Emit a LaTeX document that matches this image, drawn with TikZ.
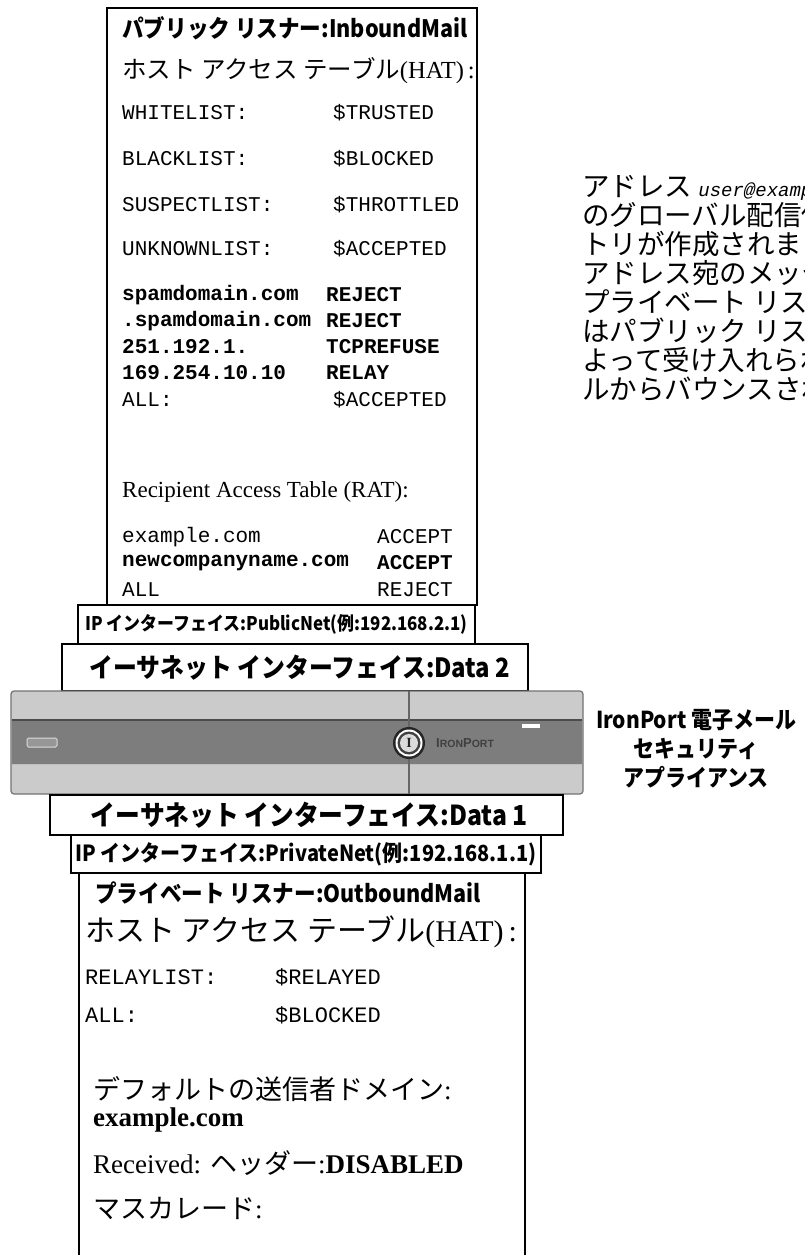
\documentclass[tikz,border=0pt]{standalone}
\usepackage{fontspec}
\setmainfont{Liberation Serif}
\setmonofont{Liberation Mono}
\newfontfamily\jp{Noto Sans CJK JP}
\newfontfamily\hdfont{Noto Sans CJK JP}[FakeStretch=0.9]
\newfontfamily\logofont{Liberation Sans}
\usepackage{tikz}
\definecolor{panel}{HTML}{CBCBCB}
\definecolor{band}{HTML}{7D7D7D}
\tikzstyle{listener} = [draw=black, line width=1.8pt, rectangle, anchor=north west, inner sep=0pt]
\tikzstyle{iface} = [listener, fill=white]
\tikzstyle{hdr} = [anchor=west, inner sep=0pt, font={\hdfont\bfseries\fontsize{24}{26}\selectfont}]
\tikzstyle{hatrow} = [anchor=west, inner sep=0pt, font={\ttfamily\fontsize{21}{23}\selectfont}]
\tikzstyle{hatbold} = [anchor=west, inner sep=0pt, font={\ttfamily\bfseries\fontsize{21}{23}\selectfont}]
\tikzstyle{privrow} = [anchor=west, inner sep=0pt, font={\ttfamily\fontsize{22}{24}\selectfont}]
\tikzstyle{txt} = [anchor=west, inner sep=0pt, font={\fontsize{24.5}{26}\selectfont}]
\tikzstyle{bigtxt} = [anchor=west, inner sep=0pt, font={\fontsize{27}{29}\selectfont}]

\begin{document}
\begin{tikzpicture}[x=1pt,y=-1pt]
  \useasboundingbox (0,0) rectangle (804,1255);
  \clip (0,0) rectangle (804,1255);

  % public listener
  \node[listener, minimum width=370pt, minimum height=597pt] (pub) at (106,7) {};
  \node[hdr] (pubhead) at (122,28) {パブリック リスナー:InboundMail};
  \node[txt] (pubhat) at (122,71) {{\jp ホスト アクセス テーブル}(HAT)\,:};
  \node[hatrow] (w1) at (122,113) {WHITELIST:};
  \node[hatrow] (w2) at (333,113) {\$TRUSTED};
  \node[hatrow] (b1) at (122,159) {BLACKLIST:};
  \node[hatrow] (b2) at (333,159) {\$BLOCKED};
  \node[hatrow] (s1) at (122,205) {SUSPECTLIST:};
  \node[hatrow] (s2) at (333,205) {\$THROTTLED};
  \node[hatrow] (u1) at (122,249) {UNKNOWNLIST:};
  \node[hatrow] (u2) at (333,249) {\$ACCEPTED};
  \node[hatbold] (d1) at (122,295) {spamdomain.com};
  \node[hatbold] (d2) at (326,295) {REJECT};
  \node[hatbold] (e1) at (122,321) {.spamdomain.com};
  \node[hatbold] (e2) at (326,321) {REJECT};
  \node[hatbold] (f1) at (122,347) {251.192.1.};
  \node[hatbold] (f2) at (326,347) {TCPREFUSE};
  \node[hatbold] (g1) at (122,373) {169.254.10.10};
  \node[hatbold] (g2) at (326,373) {RELAY};
  \node[hatrow] (a1) at (122,400) {ALL:};
  \node[hatrow] (a2) at (333,400) {\$ACCEPTED};
  \node[txt, font={\fontsize{23}{25}\selectfont}] (rat) at (122,492) {Recipient Access Table (RAT):};
  \node[hatrow] (r1) at (122,537) {example.com};
  \node[hatrow] (r2) at (377,537) {ACCEPT};
  \node[hatbold] (n1) at (122,563) {newcompanyname.com};
  \node[hatbold] (n2) at (377,563) {ACCEPT};
  \node[hatrow] (l1) at (122,590) {ALL};
  \node[hatrow] (l2) at (377,590) {REJECT};

  % interfaces above the appliance
  \node[iface, minimum width=397pt, minimum height=39pt] (pubnet) at (77,604) {};
  \node[font={\hdfont\bfseries\fontsize{18.8}{21}\selectfont}] at (pubnet.center) {IP インターフェイス:PublicNet(例:192.168.2.1)};
  \node[iface, minimum width=466pt, minimum height=47pt] (data2) at (61,643) {};
  \node[font={\hdfont\bfseries\fontsize{26.5}{28}\selectfont}] at ([xshift=5pt]data2.center) {イーサネット インターフェイス:Data 2};

  % the appliance
  \draw[fill=panel, draw=black!55, line width=1.2pt, rounded corners=3pt] (11,691) rectangle (583,794);
  \fill[band] (12,720) rectangle (582,764);
  \draw[black!70, line width=1.4pt] (12,720) -- (582,720);
  \draw[black!25, line width=1pt] (12,764) -- (582,764);
  \draw[black!60, line width=1.4pt] (409,691) -- (409,794);
  \draw[panel!70, fill=band!80, rounded corners=1.5pt, line width=1pt] (27,738) rectangle (57,747);
  \fill[white] (522,724) rectangle (540,728);
  \fill[black!85] (409,743) circle (16);
  \fill[white] (409,743) circle (13.5);
  \fill[black!75] (409,743) circle (11.5);
  \fill[panel!70] (409,743) circle (9);
  \node[font={\bfseries\fontsize{14}{14}\selectfont}, text=black!85] (logo) at (409,743) {I};
  \node[anchor=west, inner sep=0pt, text=black!75, font={\logofont\bfseries}] (brand) at (436,743)
    {\fontsize{13}{13}\selectfont I\fontsize{10.5}{11}\selectfont RON\fontsize{13}{13}\selectfont P\fontsize{10.5}{11}\selectfont ORT};
  \node[align=center, font={\hdfont\bfseries\fontsize{23.3}{29}\selectfont}] (applabel) at (696,749)
    {IronPort 電子メール\\セキュリティ\\アプライアンス};

  % interfaces below the appliance
  \node[iface, minimum width=513pt, minimum height=40pt] (data1) at (49,794) {};
  \node[font={\hdfont\bfseries\fontsize{27.5}{29}\selectfont}] at ([xshift=3pt]data1.center) {イーサネット インターフェイス:Data 1};
  \node[iface, minimum width=470pt, minimum height=38pt] (privnet) at (70,834) {};
  \node[font={\hdfont\bfseries\fontsize{22.2}{24}\selectfont}] at (privnet.center) {IP インターフェイス:PrivateNet(例:192.168.1.1)};

  % private listener
  \node[listener, minimum width=446pt, minimum height=420pt] (priv) at (78,872) {};
  \node[hdr] (privhead) at (95,893) {プライベート リスナー:OutboundMail};
  \node[bigtxt, font={\fontsize{30}{32}\selectfont}] (privhat) at (85,932) {{\jp ホスト アクセス テーブル}(HAT)\,:};
  \node[privrow] (y1) at (85,977) {RELAYLIST:};
  \node[privrow] (y2) at (275,977) {\$RELAYED};
  \node[privrow] (z1) at (85,1015) {ALL:};
  \node[privrow] (z2) at (275,1015) {\$BLOCKED};
  \node[bigtxt] (sender) at (93,1089) {{\jp デフォルトの送信者ドメイン}:};
  \node[bigtxt] (senderdom) at (93,1120) {\bfseries example.com};
  \node[bigtxt] (recv) at (93,1163) {Received: {\jp ヘッダー}:\textbf{DISABLED}};
  \node[bigtxt] (masq) at (93,1208) {{\jp マスカレード}:};

  % note on the right
  \node[anchor=north west, inner sep=0pt, align=left, font={\jp\fontsize{27.5}{29}\selectfont}] (note) at (582,175)
    {アドレス {\ttfamily\itshape\fontsize{19}{19}\selectfont user@example.com}\\
     のグローバル配信停止エン\\
     トリが作成されました。この\\
     アドレス宛のメッセージは、\\
     プライベート リスナーまた\\
     はパブリック リスナーに\\
     よって受け入れられ、テーブ\\
     ルからバウンスされます。};
\end{tikzpicture}
\end{document}
